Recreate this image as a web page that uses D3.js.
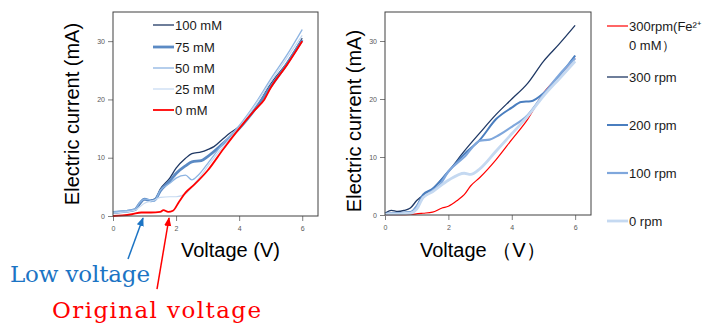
<!DOCTYPE html>
<html>
<head>
<meta charset="utf-8">
<script src="https://cdn.jsdelivr.net/npm/d3@7"></script>
<style>
  body { margin: 0; background: #fff; }
  svg { display: block; }
</style>
</head>
<body>
<svg id="chart" width="712" height="326"></svg>
<script>
// ---- data ----
const xTicks = [0, 2, 4, 6];
const yTicks = [0, 10, 20, 30];

// left panel: Fe2+ concentration
const concNames = ["100 mM", "75 mM", "50 mM", "25 mM", "0 mM"];
const conc100 = [[0,0.5],[0.4,0.8],[0.7,1.0],[0.85,2.0],[1.0,2.8],[1.2,2.7],[1.35,3.0],[1.5,4.6],[1.8,6.5],[2.0,8.2],[2.3,9.9],[2.5,10.7],[2.8,11.0],[3.0,11.4],[3.2,11.9],[3.5,13.3],[3.7,14.2],[4.0,15.3],[4.5,18.2],[5.0,22.7],[5.5,26.2],[6.0,30.5]];
const conc75 = [[0,0.6],[0.4,0.8],[0.7,1.1],[0.85,2.2],[1.0,2.9],[1.2,2.6],[1.35,2.9],[1.5,4.3],[1.8,6.0],[2.0,7.3],[2.3,8.6],[2.5,9.3],[2.8,9.5],[3.0,10.2],[3.5,12.5],[4.0,15.0],[4.5,18.3],[5.0,22.2],[5.5,26.0],[6.0,30.2]];
const conc50 = [[0,0.7],[0.4,0.9],[0.7,1.2],[0.85,2.3],[1.0,2.9],[1.15,2.8],[1.3,2.5],[1.5,4.4],[1.8,5.6],[2.0,6.5],[2.3,7.0],[2.5,6.2],[2.7,7.0],[3.0,9.0],[3.5,12.5],[4.0,15.5],[4.5,19.2],[5.0,23.5],[5.5,27.5],[6.0,32.0]];
const conc25 = [[0,0.5],[0.4,0.7],[0.7,1.0],[0.85,1.6],[1.0,2.2],[1.3,2.7],[1.5,3.2],[1.8,3.3],[2.0,3.3],[2.3,3.8],[2.5,5.0],[2.8,7.0],[3.0,8.5],[3.5,12.0],[4.0,15.2],[4.5,19.0],[5.0,23.0],[5.5,27.0],[6.0,31.0]];
const conc0 = [[0,0],[0.3,0.1],[0.6,0.3],[0.9,0.6],[1.2,0.6],[1.5,0.7],[1.6,1.0],[1.75,0.7],[1.9,0.9],[2.1,2.5],[2.3,4.0],[2.6,5.5],[3.0,7.8],[3.5,11.5],[4.0,15.0],[4.5,18.2],[4.8,20.0],[5.0,22.0],[5.5,25.8],[6.0,30.0]];

// right panel: rotation speed
const rpmNames = ["300rpm(Fe²⁺", "300 rpm", "200 rpm", "100 rpm", "0 rpm"];
const rpmRed = [[0,0],[0.8,0.1],[1.2,0.3],[1.5,0.5],[1.8,1.2],[2.0,1.5],[2.3,2.6],[2.5,3.5],[2.7,5.0],[3.0,6.5],[3.5,9.5],[4.0,13.0],[4.5,16.5],[5.0,21.0],[5.5,24.0],[6.0,27.0]];
const rpm300 = [[0,0.3],[0.2,0.8],[0.4,0.6],[0.6,0.8],[0.8,1.2],[1.0,2.5],[1.5,4.5],[2.0,7.5],[2.5,11.0],[3.0,14.2],[3.5,17.3],[4.0,20.0],[4.5,22.7],[5.0,26.5],[5.5,29.5],[6.0,32.7]];
const rpm200 = [[0,0.2],[0.8,0.5],[1.0,1.5],[1.2,3.5],[1.5,4.5],[2.0,7.5],[2.5,10.5],[3.0,13.0],[3.5,16.5],[4.0,18.5],[4.3,19.5],[4.6,19.6],[5.0,21.0],[5.5,24.0],[6.0,27.5]];
const rpm100 = [[0,0.2],[0.8,0.4],[1.0,1.5],[1.2,3.0],[1.5,4.2],[1.7,5.0],[2.0,7.5],[2.5,10.0],[3.0,12.8],[3.3,13.0],[3.6,13.8],[4.0,15.2],[4.5,17.2],[5.0,20.8],[5.5,24.2],[6.0,27.0]];
const rpm0 = [[0,0.1],[0.8,0.3],[1.0,1.0],[1.2,3.0],[1.5,4.0],[2.0,6.0],[2.5,7.2],[2.7,7.0],[3.0,8.0],[3.5,11.0],[4.0,14.0],[4.5,17.0],[5.0,20.5],[5.5,23.5],[6.0,26.5]];

const svg = d3.select("#chart");

function drawPanel(opt) {
    const x = d3.scaleLinear().domain([0, 6.5]).range([opt.left, opt.right]);
    const y = d3.scaleLinear().domain([0, 35]).range([opt.bottom, opt.top]);
    const g = svg.append("g");

    g.append("g").attr("transform", "translate(" + opt.left + ",0)")
        .call(d3.axisLeft(y).tickValues(yTicks).tickFormat(d3.format("d")).tickSize(5).tickPadding(3))
        .call(a => a.select(".domain").remove());
    g.append("g").attr("transform", "translate(0," + opt.bottom + ")")
        .call(d3.axisBottom(x).tickValues(xTicks).tickFormat(d3.format("d")).tickSize(5).tickPadding(5))
        .call(a => a.select(".domain").remove());
    g.selectAll(".tick line").attr("stroke", "#7f7f7f");
    g.selectAll(".tick text").attr("fill", "#595959").attr("font-size", 7)
        .attr("font-family", "Liberation Sans, Arial, sans-serif");

    const line = d3.line().x(d => x(d[0])).y(d => y(d[1])).curve(d3.curveMonotoneX);
    opt.series.forEach(s => {
        g.append("path").datum(s.data)
            .attr("fill", "none").attr("stroke", s.color)
            .attr("stroke-width", s.width).attr("stroke-linejoin", "round")
            .attr("d", line);
    });

    g.append("rect").attr("x", opt.left).attr("y", opt.top)
        .attr("width", opt.right - opt.left).attr("height", opt.bottom - opt.top)
        .attr("fill", "none").attr("stroke", "#404040").attr("stroke-width", 1);

    // legend
    opt.series.forEach((s, i) => {
        const ly = opt.legendY[i];
        g.append("line").attr("x1", opt.legendX).attr("x2", opt.legendX + 21)
            .attr("y1", ly).attr("y2", ly)
            .attr("stroke", s.color).attr("stroke-width", s.width);
        g.append("text").attr("x", opt.legendX + 22).attr("y", ly + 4.5)
            .attr("font-size", 13).attr("font-family", "Liberation Sans, Arial, sans-serif")
            .attr("fill", "#1a1a1a").text(s.name);
    });

    g.append("text")
        .attr("transform", "translate(" + opt.yTitleX + "," + opt.yTitleY + ") rotate(-90)")
        .attr("text-anchor", "middle").attr("font-size", 20)
        .attr("font-family", "Liberation Sans, Arial, sans-serif").attr("fill", "#000")
        .text("Electric current (mA)");
    g.append("text").attr("x", opt.xTitleX).attr("y", 257)
        .attr("font-size", 20).attr("font-family", "Liberation Sans, Arial, sans-serif")
        .attr("fill", "#000").text(opt.xTitle);
    return { x, y };
}

const colNavy = "#1f3864", colMid = "#4a7ebf", colLight = "#8db4e2", colPale = "#c5d9f1", colRed = "#ff0000";

drawPanel({
    left: 113, right: 318, top: 12, bottom: 216,
    legendX: 153, legendY: [25, 47, 68, 89, 110],
    yTitleX: 79, yTitleY: 114, xTitleX: 181, xTitle: "Voltage (V)",
    series: [
        { name: concNames[0], data: conc100, color: colNavy, width: 1.3 },
        { name: concNames[1], data: conc75, color: "#5b8ac4", width: 2.8 },
        { name: concNames[2], data: conc50, color: colLight, width: 1.3 },
        { name: concNames[3], data: conc25, color: colPale, width: 1.2 },
        { name: concNames[4], data: conc0, color: colRed, width: 1.8 }
    ]
});

drawPanel({
    left: 385, right: 591, top: 12, bottom: 215,
    legendX: 607, legendY: [26, 77, 125, 173, 221],
    yTitleX: 361, yTitleY: 121, xTitleX: 420, xTitle: "Voltage （V）",
    series: [
        { name: rpmNames[0], data: rpmRed, color: colRed, width: 1.2 },
        { name: rpmNames[1], data: rpm300, color: colNavy, width: 1.3 },
        { name: rpmNames[2], data: rpm200, color: colMid, width: 2 },
        { name: rpmNames[3], data: rpm100, color: "#7fa7dc", width: 2.2 },
        { name: rpmNames[4], data: rpm0, color: colPale, width: 2.8 }
    ]
});
svg.append("text").attr("x", 629).attr("y", 49.5)
    .attr("font-size", 13).attr("font-family", "Liberation Sans, Arial, sans-serif")
    .attr("fill", "#1a1a1a").text("0 mM）");

// annotations
const ann = [
    { text: "Low voltage", color: "#1c74c4", x: 10, y: 282, len: 140, from: [128, 259], to: [143, 218] },
    { text: "Original voltage", color: "#ff0000", x: 52, y: 318, len: 209, from: [157, 289], to: [169, 218] }
];
ann.forEach((a, i) => {
    const id = "arr" + i;
    svg.append("defs").append("marker").attr("id", id)
        .attr("viewBox", "0 0 10 10").attr("refX", 9).attr("refY", 5)
        .attr("markerWidth", 6).attr("markerHeight", 6).attr("orient", "auto")
        .append("path").attr("d", "M0,1 L10,5 L0,9 z").attr("fill", a.color);
    svg.append("line").attr("x1", a.from[0]).attr("y1", a.from[1])
        .attr("x2", a.to[0]).attr("y2", a.to[1])
        .attr("stroke", a.color).attr("stroke-width", 1.5)
        .attr("marker-end", "url(#" + id + ")");
    svg.append("text").attr("x", a.x).attr("y", a.y)
        .attr("font-size", 23).attr("font-family", "DejaVu Serif, serif")
        .attr("textLength", a.len).attr("lengthAdjust", "spacing")
        .attr("fill", a.color).text(a.text);
});
</script>
</body>
</html>
